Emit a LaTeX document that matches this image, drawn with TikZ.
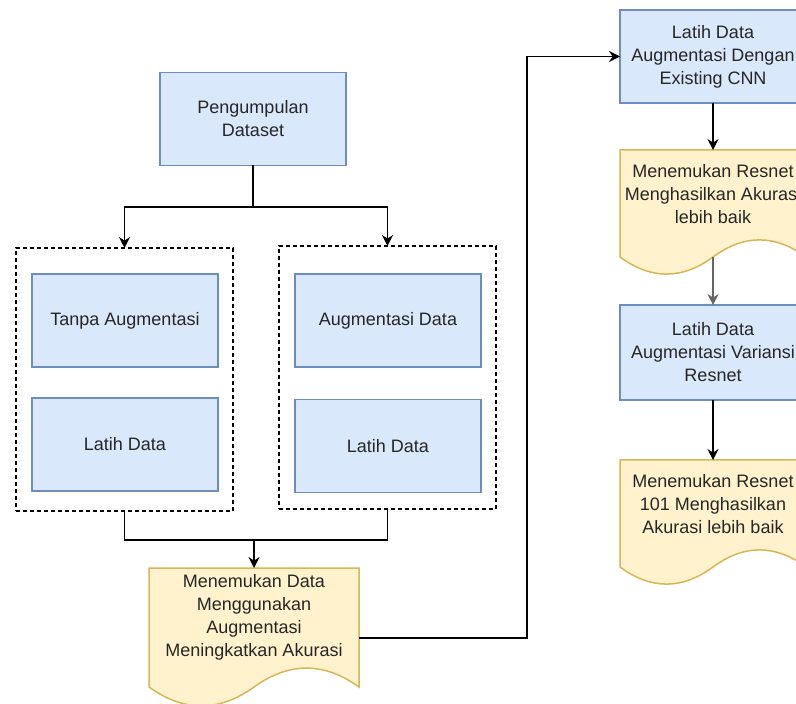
\documentclass[tikz,border=0pt]{standalone}
\usepackage{fontspec}
\setmainfont{Liberation Sans}
\usetikzlibrary{calc,backgrounds,arrows.meta}

\definecolor{xanhnen}{HTML}{DAE8FC}
\definecolor{xanhvien}{HTML}{6C8EBF}
\definecolor{vangnen}{HTML}{FFF2CC}
\definecolor{vangvien}{HTML}{D6B656}
\definecolor{chu}{HTML}{262626}

% Khối tài liệu: đáy lượn sóng, #1 = tên node, #2 = độ cao sóng
\newcommand{\vetailieu}[2]{%
	\begin{scope}[on background layer]
		\filldraw[fill=vangnen, draw=vangvien, line width=0.75pt]
		(#1.north west) -- (#1.north east) -- ($(#1.south east)+(0,#2/2)$)
		.. controls ($(#1.south east)!1/6!(#1.south west)+(0,-0.1*#2)$) and ($(#1.south east)!1/3!(#1.south west)+(0,-0.1*#2)$) .. ($(#1.south)+(0,#2/2)$)
		.. controls ($(#1.south west)!1/3!(#1.south east)+(0,1.1*#2)$) and ($(#1.south west)!1/6!(#1.south east)+(0,1.1*#2)$) .. ($(#1.south west)+(0,#2/2)$)
		-- cycle;
	\end{scope}
	\coordinate (#1-day) at ($(#1.south)+(0,#2/2)$);
	\coordinate (#1-phai) at ($(#1.east)+(0,#2/2)$);
}

\begin{document}
\begin{tikzpicture}[x=0.5pt, y=-0.5pt, >={Stealth[length=5.5pt,width=5.5pt]},
	every node/.style={font=\fontsize{9}{11.5}\selectfont, text=chu, align=center},
	hop/.style={draw=xanhvien, fill=xanhnen, line width=0.75pt, minimum width=93pt, minimum height=46.5pt, inner sep=0pt, outer sep=0pt},
	khung/.style={draw=black, dash pattern=on 2pt off 1.5pt, line width=0.6pt, minimum width=108.5pt, minimum height=131.5pt, outer sep=0pt},
	tailieu/.style={minimum height=44pt, inner sep=0pt, outer sep=0pt},
	noi/.style={line width=0.75pt, draw=black}]
	\useasboundingbox (0,0) rectangle (796,704);

	% Thu thập dữ liệu
	\node[hop] (kp) at (253,119) {Pengumpulan\\Dataset};

	% Hai nhánh: có và không có augmentasi
	\node[khung] (khungtrai) at (124.5,379.5) {};
	\node[khung] (khungphai) at (387.5,377.5) {};
	\node[hop] (tanpa) at (125,320.5) {Tanpa Augmentasi};
	\node[hop] (latihtrai) at (125,444.5) {Latih Data};
	\node[hop] (aug) at (388,320.5) {Augmentasi Data};
	\node[hop] (latihphai) at (388,446) {Latih Data};

	% Các khối tài liệu (kết quả)
	\node[tailieu, minimum width=105pt, minimum height=49pt] (tl1) at (254,617) {Menemukan Data\\Menggunakan\\Augmentasi\\Meningkatkan Akurasi};
	\vetailieu{tl1}{42}

	\node[hop] (cnn) at (713,56.5) {Latih Data\\Augmentasi Dengan\\Existing CNN};
	\node[tailieu, minimum width=93pt] (tl2) at (713,194) {Menemukan Resnet\\Menghasilkan Akurasi\\lebih baik};
	\vetailieu{tl2}{38}

	\node[hop, minimum height=47.5pt] (varian) at (713,352.5) {Latih Data\\Augmentasi Variansi\\Resnet};
	\node[tailieu, minimum width=93pt] (tl3) at (713,504) {Menemukan Resnet\\101 Menghasilkan\\Akurasi lebih baik};
	\vetailieu{tl3}{38}

	% Đường nối
	\coordinate (tach) at (253,207);
	\coordinate (gop) at (254,540);
	\draw[noi] (kp.south) -- (tach);
	\draw[noi, ->] (tach) -| (khungtrai.north);
	\draw[noi, ->] (tach) -| (khungphai.north);
	\draw[noi] (khungtrai.south) |- (gop);
	\draw[noi] (khungphai.south) |- (gop);
	\draw[noi, ->] (gop) -- (tl1.north);
	\draw[noi, ->] (tl1-phai) -- ++(168,0) |- (cnn.west);
	\draw[noi, ->] (cnn.south) -- (tl2.north);
	\draw[noi, ->, draw=black!60] (tl2-day) -- (varian.north);
	\draw[noi, ->] (varian.south) -- (tl3.north);
\end{tikzpicture}
\end{document}
